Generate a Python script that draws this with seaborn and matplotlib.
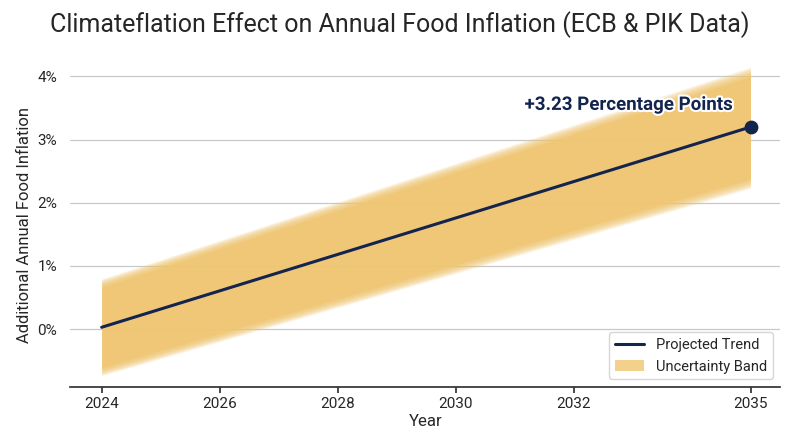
import numpy as np
import matplotlib.pyplot as plt
import matplotlib.patheffects as pe
import seaborn as sns
import pandas as pd

years = [2024, 2035]
trend = [0.03, 3.2]
band_low = [-0.68, 2.3]
band_high = [0.74, 4.08]
xticks = [2024, 2026, 2028, 2030, 2032, 2035]

sns.set_theme(style="white")
plt.rcParams['font.family'] = ['Roboto', 'DejaVu Sans']

fig, ax = plt.subplots(figsize=(8, 4.47), dpi=100)
fig.subplots_adjust(left=0.088, right=0.975, top=0.86, bottom=0.135)

df = pd.DataFrame({"Year": years, "Trend": trend, "Low": band_low, "High": band_high})

# soft-edged band: stack shrinking layers
lo = np.array(band_low)
hi = np.array(band_high)
mid = (lo + hi) / 2
n = 14
for i in range(n):
    f = 1.08 - 0.18 * i / (n - 1)
    ax.fill_between(years, mid - (mid - lo) * f, mid + (hi - mid) * f,
                    color="#f0c56e", alpha=0.13, lw=0, zorder=1)
ax.fill_between(years, lo + 0.08, hi - 0.08, color="#f0c56e", alpha=0.45, lw=0, zorder=1)

sns.lineplot(data=df, x="Year", y="Trend", ax=ax, color="#13254f", lw=2.2,
             label="Projected Trend", zorder=3)
ax.scatter([years[-1]], [trend[-1]], s=80, color="#13254f", zorder=4)
ax.fill_between([], [], [], color="#f0c56e", alpha=0.8, lw=0, label="Uncertainty Band")

ax.text(2034.7, trend[-1] + 0.35, "+3.23 Percentage Points", ha="right", va="center",
        fontsize=13.5, fontweight="bold", color="#13254f",
        path_effects=[pe.withStroke(linewidth=3, foreground="white")], zorder=5)

ax.set_xlim(2023.47, 2035.5)
ax.set_ylim(-0.91, 4.22)
ax.set_xticks(xticks)
ax.set_yticks([0, 1, 2, 3, 4])
ax.set_yticklabels([f"{v}%" for v in range(5)])
ax.yaxis.grid(True, color="#c8c8c8", lw=0.9)
ax.set_axisbelow(True)
for s in ["top", "right", "left"]:
    ax.spines[s].set_visible(False)
ax.spines["bottom"].set_color("#333333")
ax.tick_params(axis="x", bottom=True, length=4, color="#333333", labelsize=11)
ax.tick_params(axis="y", labelsize=11)
ax.set_xlabel("Year", fontsize=12, labelpad=2)
ax.set_ylabel("Additional Annual Food Inflation", fontsize=12)
fig.suptitle("Climateflation Effect on Annual Food Inflation (ECB & PIK Data)",
             fontsize=18, x=0.5, y=0.975)
ax.legend(loc="lower right", fontsize=10.5, frameon=True)

fig.savefig("out.png")
